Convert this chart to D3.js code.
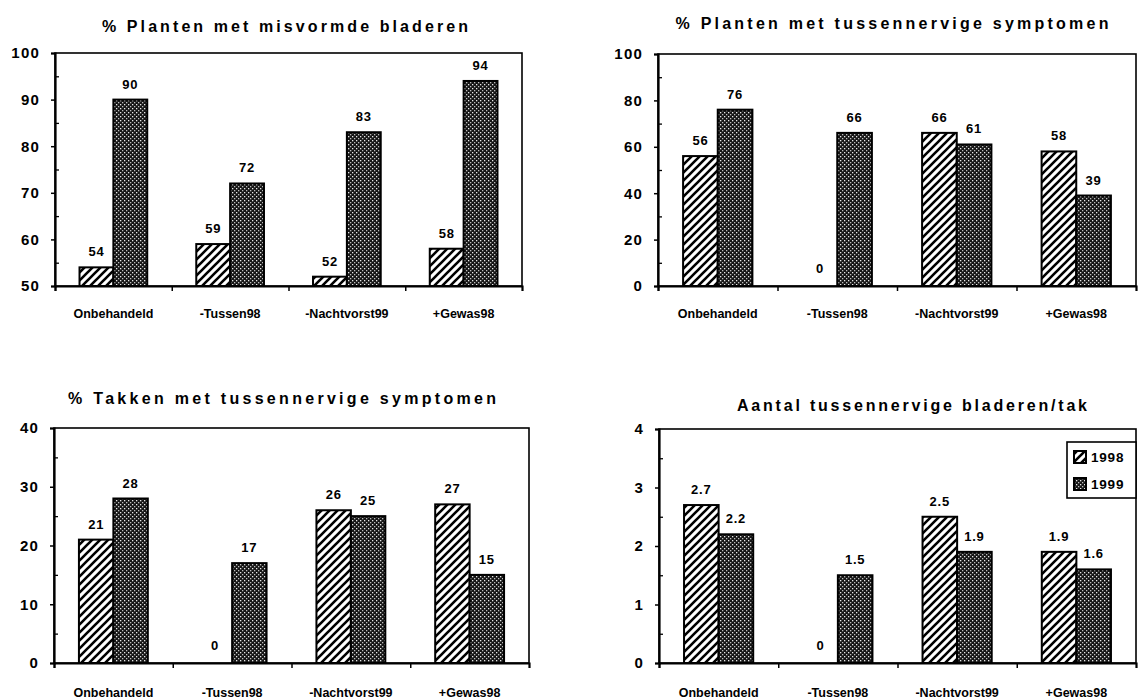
<!DOCTYPE html>
<html>
<head>
<meta charset="utf-8">
<script src="https://cdn.jsdelivr.net/npm/d3@7"></script>
<style>
  html, body { margin: 0; padding: 0; background: #fff; }
  svg { display: block; font-family: "Liberation Sans", Arial, sans-serif; }
</style>
</head>
<body>
<svg id="chart" width="1138" height="699"></svg>
<script>
// ---------- data ----------
const categories = ["Onbehandeld", "-Tussen98", "-Nachtvorst99", "+Gewas98"];
const seriesNames = ["1998", "1999"];

const titles = [
  "% Planten met misvormde bladeren",
  "% Planten met tussennervige symptomen",
  "% Takken met tussennervige symptomen",
  "Aantal tussennervige bladeren/tak"
];

const plantenMisvormd1998 = [54, 59, 52, 58];
const plantenMisvormd1999 = [90, 72, 83, 94];

const plantenTussen1998 = [56, 0, 66, 58];
const plantenTussen1999 = [76, 66, 61, 39];

const takkenTussen1998 = [21, 0, 26, 27];
const takkenTussen1999 = [28, 17, 25, 15];

const aantalBladeren1998 = [2.7, 0, 2.5, 1.9];
const aantalBladeren1999 = [2.2, 1.5, 1.9, 1.6];

const yTicks1 = [50, 60, 70, 80, 90, 100];
const yTicks2 = [0, 20, 40, 60, 80, 100];
const yTicks3 = [0, 10, 20, 30, 40];
const yTicks4 = [0, 1, 2, 3, 4];

const yMinor1 = [55, 65, 75, 85, 95];
const yMinor2 = [10, 30, 50, 70, 90];
const yMinor3 = [5, 15, 25, 35];
const yMinor4 = [0.5, 1.5, 2.5, 3.5];

// ---------- layout (positions only) ----------
const panels = [
  { title: titles[0], s1: plantenMisvormd1998, s2: plantenMisvormd1999, ticks: yTicks1, minor: yMinor1,
    x0: 55, x1: 522, y0: 53, y1: 286, tx: 285, ty: 32, tl: 366, catY: 318, legend: false },
  { title: titles[1], s1: plantenTussen1998, s2: plantenTussen1999, ticks: yTicks2, minor: yMinor2,
    x0: 658, x1: 1136, y0: 54, y1: 286, tx: 892, ty: 29, tl: 433, catY: 318, legend: false },
  { title: titles[2], s1: takkenTussen1998, s2: takkenTussen1999, ticks: yTicks3, minor: yMinor3,
    x0: 54, x1: 529, y0: 428, y1: 663, tx: 282, ty: 404, tl: 428, catY: 697, legend: false },
  { title: titles[3], s1: aantalBladeren1998, s2: aantalBladeren1999, ticks: yTicks4, minor: yMinor4,
    x0: 659, x1: 1136, y0: 429, y1: 663, tx: 912, ty: 411, tl: 350, catY: 697, legend: true }
];

const svg = d3.select("#chart");
const defs = svg.append("defs");

// hatch pattern (1998)
const hatch = defs.append("pattern")
  .attr("id", "hatch").attr("patternUnits", "userSpaceOnUse")
  .attr("width", 8).attr("height", 8);
hatch.append("rect").attr("width", 8).attr("height", 8).attr("fill", "#fff");
hatch.append("path")
  .attr("d", "M-2,2 L2,-2 M0,8 L8,0 M6,10 L10,6")
  .attr("stroke", "#000").attr("stroke-width", 2.6);

// dotted dark pattern (1999)
const dots = defs.append("pattern")
  .attr("id", "dots").attr("patternUnits", "userSpaceOnUse")
  .attr("width", 4).attr("height", 4);
dots.append("rect").attr("width", 4).attr("height", 4).attr("fill", "#161616");
dots.append("rect").attr("x", 0).attr("y", 0).attr("width", 1.3).attr("height", 1.3).attr("fill", "#e8e8e8");
dots.append("rect").attr("x", 2).attr("y", 2).attr("width", 1.3).attr("height", 1.3).attr("fill", "#bdbdbd");

const fills = { "1998": "url(#hatch)", "1999": "url(#dots)" };

panels.forEach(p => {
  const g = svg.append("g");
  const dom = [p.ticks[0], p.ticks[p.ticks.length - 1]];
  const y = d3.scaleLinear().domain(dom).range([p.y1, p.y0]);
  const x = d3.scaleBand().domain(categories).range([p.x0, p.x1]).paddingInner(0).paddingOuter(0);
  const bw = x.bandwidth();
  const xs = d3.scaleBand().domain(seriesNames).range([bw * 0.21, bw * 0.79]).padding(0);
  const xl = d3.scaleLinear().domain([0, categories.length]).range([p.x0, p.x1]);

  // title
  g.append("text")
    .attr("x", p.tx).attr("y", p.ty)
    .attr("text-anchor", "middle")
    .attr("font-size", 16).attr("font-weight", "bold")
    .attr("textLength", p.tl).attr("lengthAdjust", "spacing")
    .text(p.title);

  // frame (top & right)
  g.append("rect")
    .attr("x", p.x0).attr("y", p.y0)
    .attr("width", p.x1 - p.x0).attr("height", p.y1 - p.y0)
    .attr("fill", "none").attr("stroke", "#000").attr("stroke-width", 1.6);

  // bars
  const rows = categories.map((c, i) => ({ c, v: [p.s1[i], p.s2[i]] }));
  rows.forEach(r => {
    seriesNames.forEach((s, j) => {
      const v = r.v[j];
      if (v > dom[0]) {
        g.append("rect")
          .attr("x", x(r.c) + xs(s))
          .attr("y", y(v))
          .attr("width", xs.bandwidth())
          .attr("height", y(dom[0]) - y(v))
          .attr("fill", fills[s])
          .attr("stroke", "#000").attr("stroke-width", 2);
      }
      g.append("text")
        .attr("x", x(r.c) + xs(s) + xs.bandwidth() / 2)
        .attr("y", y(v) - (v === 0 ? 13 : 11))
        .attr("text-anchor", "middle")
        .attr("font-size", 13).attr("font-weight", "bold")
        .attr("letter-spacing", 0.8)
        .text(String(v));
    });
  });

  // y axis (major)
  const ya = g.append("g").attr("transform", `translate(${p.x0},0)`)
    .call(d3.axisLeft(y).tickValues(p.ticks).tickSize(4).tickPadding(11).tickFormat(d3.format("")));
  ya.select(".domain").attr("stroke-width", 2.2);
  ya.selectAll(".tick line").attr("stroke-width", 1.5);
  ya.selectAll(".tick text")
    .attr("font-size", 15).attr("font-weight", "bold").attr("letter-spacing", 1.2)
    .attr("font-family", "'Liberation Sans', Arial, sans-serif").attr("fill", "#000");

  // y axis minor ticks (inside)
  const ym = g.append("g").attr("transform", `translate(${p.x0},0)`)
    .call(d3.axisLeft(y).tickValues(p.minor).tickSize(-4).tickFormat(""));
  ym.select(".domain").remove();
  ym.selectAll(".tick line").attr("stroke-width", 1.3);

  // x axis: category boundary ticks
  const xa = g.append("g").attr("transform", `translate(0,${p.y1})`)
    .call(d3.axisBottom(xl).tickValues(d3.range(0, categories.length)).tickSize(5).tickFormat(""));
  xa.select(".domain").attr("stroke-width", 2.2);
  xa.selectAll(".tick line").attr("stroke-width", 1.5);

  // category labels
  g.selectAll(".cat").data(categories).enter().append("text")
    .attr("x", d => x(d) + bw / 2)
    .attr("y", p.catY)
    .attr("text-anchor", "middle")
    .attr("font-size", 12.5).attr("font-weight", "bold")
    .text(d => d);

  // legend
  if (p.legend) {
    const lg = g.append("g");
    lg.append("rect")
      .attr("x", 1067).attr("y", 442).attr("width", 69).attr("height", 56)
      .attr("fill", "#fff").attr("stroke", "#000").attr("stroke-width", 1.6);
    seriesNames.forEach((s, j) => {
      const cy = 457 + j * 27;
      lg.append("rect")
        .attr("x", 1074).attr("y", cy - 6).attr("width", 12).attr("height", 12)
        .attr("fill", fills[s]).attr("stroke", "#000").attr("stroke-width", 2);
      lg.append("text")
        .attr("x", 1091).attr("y", cy + 5)
        .attr("font-size", 13.5).attr("font-weight", "bold").attr("letter-spacing", 0.8)
        .text(s);
    });
  }
});
</script>
</body>
</html>
